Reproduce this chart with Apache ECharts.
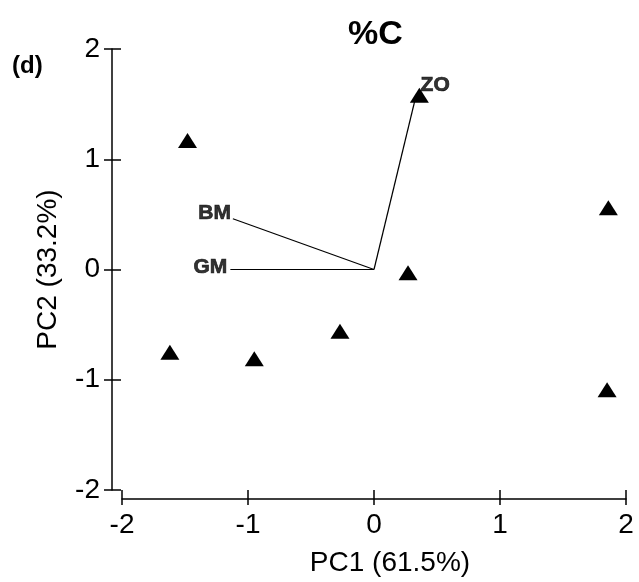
<!DOCTYPE html>
<html>
<head>
<meta charset="utf-8">
<script src="https://cdn.jsdelivr.net/npm/echarts@6/dist/echarts.min.js"></script>
<style>
  html, body { margin: 0; padding: 0; background: #fff; }
  #chart { width: 639px; height: 582px; }
</style>
</head>
<body>
<div id="chart"></div>
<script>
// sample scores (triangles)
var sampleX = [-1.48, -1.62, -0.95, -0.27, 0.27, 1.86, 1.85, 0.36];
var sampleY = [1.17, -0.75, -0.81, -0.56, -0.03, 0.56, -1.09, 1.58];
// variable loadings (lines from origin)
var varNames = ['ZO', 'BM', 'GM'];
var varX = [0.33, -1.12, -1.14];
var varY = [1.56, 0.46, 0.0];
var axisMin = -2, axisMax = 2, axisStep = 1;

var font = 'Liberation Sans, Arial, sans-serif';
var black = '#000';

function baseAxis(extra) {
    return Object.assign({
        type: 'value',
        min: axisMin,
        max: axisMax,
        interval: axisStep,
        splitLine: { show: false },
        gridIndex: 0
    }, extra);
}

// label placement for each vector tip
var labelPos = {
    ZO: { position: 'right', offset: [0, -12] },
    BM: { position: 'left', offset: [3, -6] },
    GM: { position: 'left', offset: [2, -2] }
};

var vectorSeries = varNames.map(function (n, i) {
    return {
        type: 'line',
        name: n,
        symbol: 'none',
        silent: true,
        lineStyle: { color: black, width: 1.2 },
        data: [[0, 0], [varX[i], varY[i]]],
        z: 2
    };
});

var tipLabels = {
    type: 'scatter',
    symbolSize: 0,
    silent: true,
    data: varNames.map(function (n, i) {
        return {
            value: [varX[i], varY[i]],
            label: {
                show: true,
                formatter: n,
                position: labelPos[n].position,
                offset: labelPos[n].offset,
                color: black,
                textBorderColor: black,
                textBorderWidth: 0.7,
                fontFamily: font,
                fontWeight: 'bold',
                fontSize: 21
            }
        };
    }),
    z: 4
};

var option = {
    animation: false,
    title: [
        {
            text: '%C', left: 343, top: 13,
            textStyle: { fontFamily: font, fontWeight: 'bold', fontSize: 34, color: black }
        },
        {
            text: '(d)', left: 7, top: 49,
            textStyle: { fontFamily: font, fontWeight: 'bold', fontSize: 24, color: black }
        }
    ],
    grid: { left: 122, right: 13, top: 49, bottom: 92 },
    xAxis: [
        baseAxis({
            position: 'bottom',
            offset: 9,
            name: 'PC1 (61.5%)',
            nameLocation: 'middle',
            nameGap: 50,
            nameTextStyle: { fontFamily: font, fontSize: 28, color: black, padding: [0, 0, 0, 32] },
            axisLine: { onZero: false, lineStyle: { color: black, width: 1.5 } },
            axisTick: { length: 6, lineStyle: { color: black, width: 1.5 } },
            axisLabel: { fontFamily: font, fontSize: 28, color: black, margin: 12 }
        }),
        baseAxis({
            position: 'bottom',
            offset: 9,
            axisLine: { show: false, onZero: false },
            axisTick: { inside: true, length: 9, lineStyle: { color: black, width: 1.5 } },
            axisLabel: { show: false }
        })
    ],
    yAxis: [
        baseAxis({
            position: 'left',
            offset: 10,
            name: 'PC2 (33.2%)',
            nameLocation: 'middle',
            nameGap: 50,
            nameTextStyle: { fontFamily: font, fontSize: 28, color: black },
            axisLine: { onZero: false, lineStyle: { color: black, width: 1.5 } },
            axisTick: { length: 8, lineStyle: { color: black, width: 1.5 } },
            axisLabel: { fontFamily: font, fontSize: 28, color: black, margin: 12 }
        }),
        baseAxis({
            position: 'left',
            offset: 10,
            axisLine: { show: false, onZero: false },
            axisTick: { inside: true, length: 9, lineStyle: { color: black, width: 1.5 } },
            axisLabel: { show: false }
        })
    ],
    series: vectorSeries.concat([
        {
            type: 'scatter',
            symbol: 'triangle',
            symbolSize: [19, 15],
            itemStyle: { color: black, opacity: 1 },
            data: sampleX.map(function (x, i) { return [x, sampleY[i]]; }),
            z: 3
        },
        tipLabels
    ])
};

var chart = echarts.init(document.getElementById('chart'));
chart.setOption(option);
</script>
</body>
</html>
